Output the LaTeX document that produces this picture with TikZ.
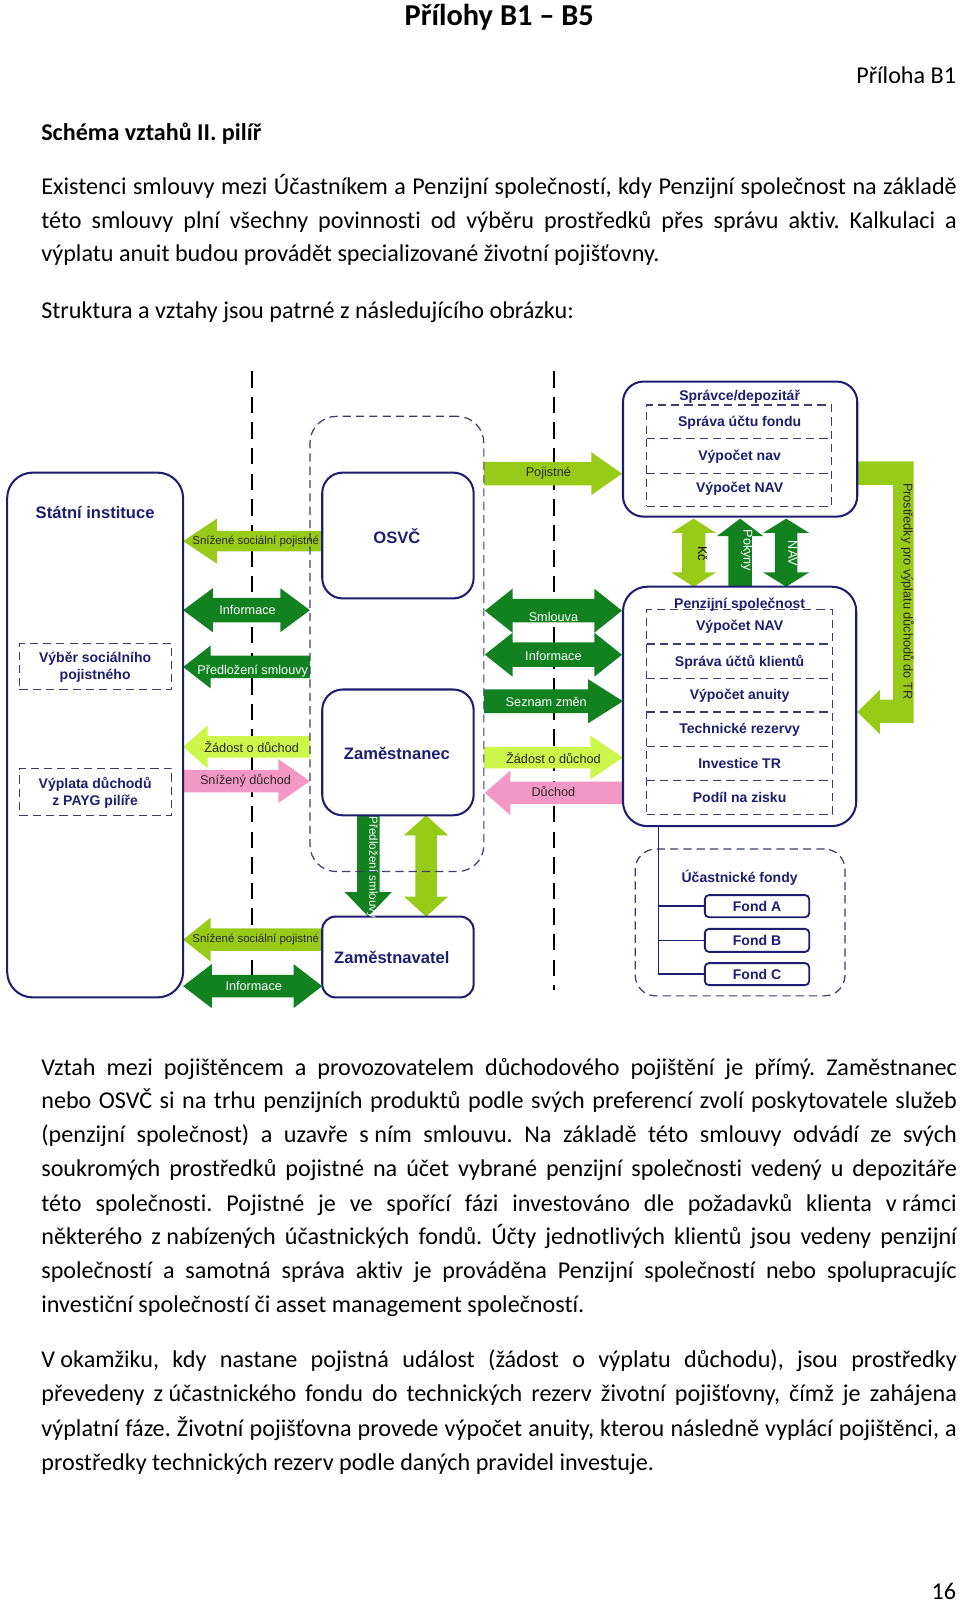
\documentclass[tikz,border=0pt]{standalone}
\usepackage{fontspec}
\setmainfont{Carlito}[Ligatures={NoCommon}]
\newfontfamily\arialf{Liberation Sans}
\usetikzlibrary{fit}
\definecolor{navy}{RGB}{30,30,112}
\definecolor{dgreen}{RGB}{18,130,32}
\definecolor{lgreen}{RGB}{152,202,24}
\definecolor{ygreen}{RGB}{206,246,74}
\definecolor{pinkc}{RGB}{243,152,196}
\definecolor{dashc}{RGB}{60,60,110}
\definecolor{labc}{RGB}{40,40,40}
\newcommand\jl[1]{\hbox to 447.5pt{#1}}
\newcommand\fs{\hskip0.226em\relax}
% right arrow: color, xtail, xtip, yc, shaft half, head half, head length
\newcommand\rarr[7]{\fill[#1] (#2,#4-#5) -- (#3-#7,#4-#5) -- (#3-#7,#4-#6) -- (#3,#4) -- (#3-#7,#4+#6) -- (#3-#7,#4+#5) -- (#2,#4+#5) -- cycle;}
\newcommand\larr[7]{\fill[#1] (#2,#4-#5) -- (#3+#7,#4-#5) -- (#3+#7,#4-#6) -- (#3,#4) -- (#3+#7,#4+#6) -- (#3+#7,#4+#5) -- (#2,#4+#5) -- cycle;}
\newcommand\darr[7]{\fill[#1] (#2,#4) -- (#2+#7,#4-#6) -- (#2+#7,#4-#5) -- (#3-#7,#4-#5) -- (#3-#7,#4-#6) -- (#3,#4) -- (#3-#7,#4+#6) -- (#3-#7,#4+#5) -- (#2+#7,#4+#5) -- (#2+#7,#4+#6) -- cycle;}
% vertical: color, y1, y2, xc, s, h, L
\newcommand\vdarr[7]{\fill[#1] (#4,#2) -- (#4+#6,#2+#7) -- (#4+#5,#2+#7) -- (#4+#5,#3-#7) -- (#4+#6,#3-#7) -- (#4,#3) -- (#4-#6,#3-#7) -- (#4-#5,#3-#7) -- (#4-#5,#2+#7) -- (#4-#6,#2+#7) -- cycle;}
\newcommand\dnarr[7]{\fill[#1] (#4-#5,#2) -- (#4+#5,#2) -- (#4+#5,#3-#7) -- (#4+#6,#3-#7) -- (#4,#3) -- (#4-#6,#3-#7) -- (#4-#5,#3-#7) -- cycle;}
\newcommand\uparr[7]{\fill[#1] (#4-#5,#2) -- (#4+#5,#2) -- (#4+#5,#3+#7) -- (#4+#6,#3+#7) -- (#4,#3) -- (#4-#6,#3+#7) -- (#4-#5,#3+#7) -- cycle;}
\frenchspacing
\begin{document}
\begin{tikzpicture}[x=0.5pt,y=-0.5pt,
  bx/.style={draw=navy, line width=1pt, fill=white, rounded corners=#1, inner sep=0pt},
  gbx/.style={draw=dashc, line width=0.6pt, dash pattern=on 4pt off 2.5pt, rounded corners=#1, inner sep=0pt},
  ibx/.style={draw=dashc, line width=0.6pt, dash pattern=on 4pt off 2.5pt, inner sep=0pt},
  idiv/.style={draw=dashc, line width=0.6pt, dash pattern=on 4pt off 2.5pt},
  fbx/.style={draw=navy, line width=0.9pt, fill=white, rounded corners=2pt, inner sep=0pt},
  sepline/.style={line width=0.9pt, dash pattern=on 8pt off 4.5pt},
  conn/.style={draw=navy, line width=0.7pt},
  btitle/.style={font=\arialf\bfseries\fontsize{8.1}{9}\selectfont, text=navy, inner sep=0pt},
  bitem/.style={font=\arialf\bfseries\fontsize{6.85}{8.3}\selectfont, text=navy, inner sep=0pt, align=center},
  alab/.style={font=\arialf\fontsize{6.2}{7}\selectfont, text=labc, inner sep=0pt},
  slab/.style={font=\arialf\fontsize{5.6}{7}\selectfont, text=labc, inner sep=0pt},
  wlab/.style={alab, text=white},
  bodyline/.style={font=\fontsize{11.8}{16.5}\selectfont, anchor=base west, inner sep=0pt},
]
\fill[white] (0,0) rectangle (938.5,1567);
\useasboundingbox (0,0) rectangle (938.5,1567);

% ---------- page text ----------
\node[font=\bfseries\fontsize{14.85}{18}\selectfont, anchor=base, inner sep=0pt] (title) at (488,25) {Přílohy B1 – B5};
\node[font=\fontsize{11.8}{16.5}\selectfont, anchor=base east, inner sep=0pt] (pril) at (935,82) {Příloha B1};
\node[bodyline, font=\bfseries\fontsize{11.8}{16.5}\selectfont] (schema) at (40,137) {Schéma vztahů II. pilíř};

\node[bodyline] (a1) at (40,190) {\jl{Existenci smlouvy mezi Účastníkem a Penzijní společností, kdy Penzijní společnost na základě}};
\node[bodyline] (a2) at (40,223) {\jl{této smlouvy plní všechny povinnosti od výběru prostředků přes správu aktiv. Kalkulaci a}};
\node[bodyline] (a3) at (40,256) {výplatu anuit budou provádět specializované životní pojišťovny.};
\node[bodyline] (a4) at (40,311) {Struktura a vztahy jsou patrné z následujícího obrázku:};

\node[bodyline] (b1) at (40,1051) {\jl{Vztah mezi pojištěncem a provozovatelem důchodového pojištění je přímý. Zaměstnanec}};
\node[bodyline] (b2) at (40,1084) {\jl{nebo OSVČ si na trhu penzijních produktů podle svých preferencí zvolí poskytovatele služeb}};
\node[bodyline] (b3) at (40,1117) {\jl{(penzijní společnost) a uzavře s\fs ním smlouvu. Na základě této smlouvy odvádí ze svých}};
\node[bodyline] (b4) at (40,1150) {\jl{soukromých prostředků pojistné na účet vybrané penzijní společnosti vedený u depozitáře}};
\node[bodyline] (b5) at (40,1184) {\jl{této společnosti. Pojistné je ve spořící fázi investováno dle požadavků klienta v\fs rámci}};
\node[bodyline] (b6) at (40,1217) {\jl{některého z\fs nabízených účastnických fondů. Účty jednotlivých klientů jsou vedeny penzijní}};
\node[bodyline] (b7) at (40,1250) {\jl{společností a samotná správa aktiv je prováděna Penzijní společností nebo spolupracujíc}};
\node[bodyline] (b8) at (40,1283) {investiční společností či asset management společností.};

\node[bodyline] (c1) at (40,1337) {\jl{V\fs okamžiku, kdy nastane pojistná událost (žádost o výplatu důchodu), jsou prostředky}};
\node[bodyline] (c2) at (40,1370) {\jl{převedeny z\fs účastnického fondu do technických rezerv životní pojišťovny, čímž je zahájena}};
\node[bodyline] (c3) at (40,1404) {\jl{výplatní fáze. Životní pojišťovna provede výpočet anuity, kterou následně vyplácí pojištěnci, a}};
\node[bodyline] (c4) at (40,1437) {prostředky technických rezerv podle daných pravidel investuje.};

\node[font=\fontsize{11.8}{16.5}\selectfont, anchor=base east, inner sep=0pt] (pnum) at (935,1564) {16};

% ---------- separators ----------
\draw[sepline] (246,363) -- (246,962);
\draw[sepline] (541.6,363) -- (541.6,968);

% ---------- block arrows ----------
\larr{lgreen}{315}{179}{529}{10}{22}{33}
\darr{dgreen}{179}{303}{596.5}{12}{21.5}{29}
\larr{dgreen}{303}{179}{652}{11}{21}{27}
\larr{ygreen}{303}{179}{730}{10.5}{21}{24}
\rarr{pinkc}{179}{303}{763.5}{11}{21.5}{31}
\larr{lgreen}{315}{179}{918.5}{11}{21.5}{27}
\darr{dgreen}{179}{315}{964}{11}{21.5}{28}

\rarr{lgreen}{473}{608}{463}{11.5}{21}{30}
\darr{dgreen}{474}{608}{597}{11.5}{21.5}{27}
\darr{dgreen}{474}{608}{640}{12}{21.5}{27}
\rarr{dgreen}{473}{609}{685.5}{11.5}{21.5}{34}
\rarr{ygreen}{473}{609}{740.5}{10.5}{21.5}{32}
\larr{pinkc}{611}{474}{775}{11}{22}{25}

\dnarr{dgreen}{797}{896}{360}{11}{23}{24}
\vdarr{lgreen}{797}{896}{416.5}{10.5}{21.5}{19.5}
\vdarr{lgreen}{507}{573.5}{678}{11.5}{22}{14}
\uparr{dgreen}{573.5}{507}{723.5}{11.5}{22.5}{17}
\vdarr{dgreen}{507}{573.5}{768.5}{11}{22.5}{14}
\fill[lgreen] (838,451) -- (893,451) -- (893,707) -- (860,707) -- (860,717.5) -- (838,696) -- (860,674.5) -- (860,684) -- (873,684) -- (873,474) -- (838,474) -- cycle;

% ---------- boxes ----------
\node[bx=12.5pt, fit={(7,462) (179,975)}] (stat) {};
\node[ibx, fit={(19,629) (168,674)}] (vyber) {};
\node[ibx, fit={(19,751) (168,797)}] (vyplata) {};
\node[bx=10pt, fit={(315,462) (463,585)}] (osvc) {};
\node[bx=10pt, fit={(315,674) (463,797)}] (zam) {};
\node[bx=6.5pt, fit={(315,896) (463,975)}] (zamtel) {};
\node[gbx=13pt, fit={(303,407) (473,852)}] (grp) {};
\node[bx=10pt, fit={(609,373) (838,505)}] (spr) {};
\node[ibx, fit={(632,396) (813,495)}] (sprin) {};
\draw[idiv] (632,429) -- (813,429);
\draw[idiv] (632,463) -- (813,463);
\node[bx=12pt, fit={(609,573.5) (837,807.6)}] (penz) {};
\node[ibx, fit={(632,596) (814,796)}] (penzin) {};
\foreach \yy in {629.5,663,696,730,763} \draw[idiv] (632,\yy) -- (814,\yy);
\node[gbx=10pt, fit={(621,830) (826,973.5)}] (fondy) {};
\node[fbx, fit={(689,875) (791,896.6)}] (fA) {};
\node[fbx, fit={(689,908) (791,930.5)}] (fB) {};
\node[fbx, fit={(689,941.5) (791,963)}] (fC) {};
\coordinate (tk) at (643.5,807.6);
\draw[conn] (tk) |- (fC.west);
\draw[conn] (tk |- fA.west) -- (fA.west);
\draw[conn] (tk |- fB.west) -- (fB.west);

% ---------- box labels ----------
\node[btitle] (tstat) at (93,501) {Státní instituce};
\node[bitem] (tvyber) at (93,652.5) {Výběr sociálního\\pojistného};
\node[bitem] (tvypl) at (93,775) {Výplata důchodů\\z PAYG pilíře};
\node[btitle] (tosvc) at (388,524) {OSVČ};
\node[btitle] (tzam) at (388,736) {Zaměstnanec};
\node[btitle] (tzamtel) at (383,936) {Zaměstnavatel};
\node[bitem] (tspr) at (723,388) {Správce/depozitář};
\node[bitem] (ts1) at (723,413) {Správa účtu fondu};
\node[bitem] (ts2) at (723,446) {Výpočet nav};
\node[bitem] (ts3) at (723,478) {Výpočet NAV};
\node[bitem] (tpenz) at (723,591) {Penzijní společnost};
\node[bitem] (tp1) at (723,613) {Výpočet NAV};
\node[bitem] (tp2) at (723,647) {Správa účtů klientů};
\node[bitem] (tp3) at (723,680) {Výpočet anuity};
\node[bitem] (tp4) at (723,713) {Technické rezervy};
\node[bitem] (tp5) at (723,746) {Investice TR};
\node[bitem] (tp6) at (723,780) {Podíl na zisku};
\node[bitem] (tfondy) at (723,858) {Účastnické fondy};
\node[bitem] (tfA) at (fA) {Fond A};
\node[bitem] (tfB) at (fB) {Fond B};
\node[bitem] (tfC) at (fC) {Fond C};

% ---------- arrow labels ----------
\node[slab] (l1) at (250,529) {Snížené sociální pojistné};
\node[wlab] (l2) at (242,596) {Informace};
\node[wlab] (l3) at (247,656) {Předložení smlouvy};
\node[alab] (l4) at (246,730) {Žádost o důchod};
\node[alab] (l5) at (240,763) {Snížený důchod};
\node[slab] (l6) at (250,918) {Snížené sociální pojistné};
\node[wlab] (l7) at (248,964) {Informace};
\node[alab] (l8) at (536,463) {Pojistné};
\node[wlab] (l9) at (541,603) {Smlouva};
\node[wlab] (l10) at (541,641) {Informace};
\node[wlab] (l11) at (534,686) {Seznam změn};
\node[alab] (l12) at (541,741) {Žádost o důchod};
\node[alab] (l13) at (541,774) {Důchod};
\node[wlab, rotate=-90, font=\arialf\fontsize{5.7}{7}\selectfont] (l14) at (364,848) {Předložení smlouvy};
\node[alab, rotate=-90, text=black] (l15) at (687,541) {Kč};
\node[wlab, rotate=-90] (l16) at (730,538) {Pokyny};
\node[wlab, rotate=-90] (l17) at (775,541) {NAV};
\node[alab, rotate=-90] (l18) at (887,578) {Prostředky pro výplatu důchodů do TR};
\end{tikzpicture}
\end{document}
